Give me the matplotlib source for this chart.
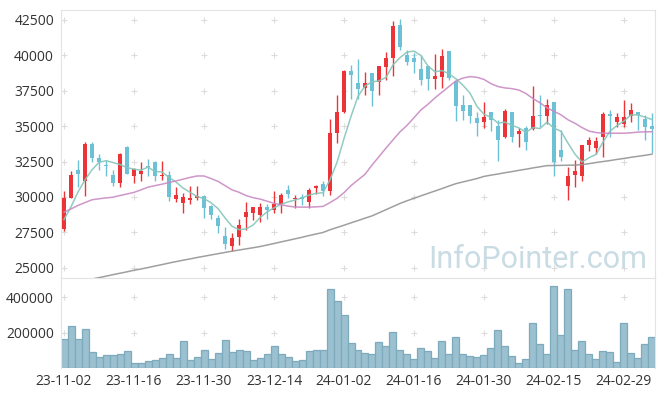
import numpy as np
import pandas as pd
import matplotlib.pyplot as plt

plt.rcParams['font.family'] = ['Open Sans', 'DejaVu Sans']

tick_labels = ["23-11-02", "23-11-16", "23-11-30", "23-12-14", "24-01-02",
               "24-01-16", "24-01-30", "24-02-15", "24-02-29"]

open_ = [27700, 29950, 31900, 31100, 33750, 32750, 32200, 31550, 31000, 33550,
         31450, 31650, 32200, 32500, 31450, 31550, 29850, 29600, 29800, 29950,
         30050, 29350, 28500, 27250, 26500, 27200, 28600, 28900, 28700, 29300,
         29100, 29500, 30500, 29850, 30000, 29650, 30600, 30900, 30400, 34500,
         36000, 38900, 38050, 37700, 38750, 38150, 39200, 39850, 42150, 40050,
         39850, 39050, 39250, 38350, 38500, 40300, 38200, 36500, 36500, 35600,
         35300, 36000, 35000, 34200, 36000, 34450, 34900, 34800, 35750, 35700,
         36700, 33300, 30750, 31550, 31450, 33650, 33450, 34200, 35850, 35300,
         35150, 35700, 36000, 35500, 35000]
high = [30400, 31800, 32600, 33900, 33900, 33000, 32600, 31900, 33100, 33600,
        32050, 32500, 32650, 32550, 32550, 31800, 30700, 30250, 30800, 30750,
        30100, 29400, 28750, 27900, 27450, 28450, 29650, 29300, 29600, 29500,
        30450, 30250, 30850, 30150, 30200, 30600, 30850, 31150, 35500, 37200,
        38950, 39350, 39750, 38850, 38750, 39250, 40250, 42400, 42550, 40400,
        40150, 40050, 39250, 40100, 40450, 40300, 38200, 37200, 36500, 36000,
        36700, 36000, 35450, 36200, 36000, 34900, 35000, 37850, 37200, 36900,
        36700, 34750, 32100, 32600, 33700, 34250, 34250, 36000, 36150, 35900,
        36850, 36650, 36000, 35800, 35950]
low = [27600, 29900, 30700, 30100, 32450, 31900, 31500, 30750, 30700, 31600,
       31000, 31100, 31450, 31100, 31200, 29700, 29650, 28850, 29500, 29800,
       28500, 28450, 27450, 26300, 26200, 26600, 27650, 28350, 28250, 28450,
       28850, 28850, 29900, 29250, 29400, 29250, 30200, 30050, 30150, 33800,
       35950, 36900, 36950, 37200, 36400, 37200, 38250, 38550, 40400, 39300,
       38750, 37900, 37550, 37650, 37700, 38250, 35350, 35450, 35200, 34300,
       34850, 34650, 32550, 34150, 33850, 33500, 33300, 34750, 34950, 35150,
       31500, 32550, 29800, 30700, 31100, 33250, 33000, 32850, 34250, 34950,
       34950, 35300, 34750, 34000, 33100]
close = [29900, 31550, 31650, 33750, 32750, 32500, 32150, 31000, 33050, 31650,
         31950, 31800, 32100, 31450, 31550, 30000, 30150, 30000, 29950, 30050,
         29250, 28700, 27950, 26650, 27100, 28050, 28950, 29300, 29300, 29100,
         29500, 30150, 30200, 29950, 29850, 30500, 30750, 30450, 34500, 36000,
         38900, 38600, 37600, 38050, 37500, 39250, 39800, 42050, 40600, 39500,
         39550, 38250, 38350, 38550, 39950, 38400, 36450, 36100, 35750, 35250,
         35650, 35400, 34050, 36050, 34200, 34650, 33900, 35700, 35700, 36500,
         32500, 32800, 31500, 31800, 33700, 34050, 33950, 35850, 35700, 35650,
         35650, 36150, 35800, 34950, 34800]
volume = [164000, 235000, 164000, 220000, 92000, 64000, 75000, 75000, 80000, 97000,
          30000, 30000, 41000, 47000, 58000, 80000, 58000, 153000, 47000, 64000,
          103000, 52000, 86000, 159000, 92000, 103000, 97000, 47000, 58000, 80000,
          125000, 80000, 64000, 41000, 47000, 97000, 103000, 103000, 445000, 378000,
          299000, 142000, 103000, 86000, 80000, 148000, 125000, 204000, 103000, 80000,
          52000, 114000, 97000, 58000, 153000, 80000, 176000, 80000, 69000, 64000,
          75000, 114000, 215000, 125000, 69000, 30000, 52000, 254000, 136000, 80000,
          462000, 187000, 445000, 103000, 153000, 80000, 52000, 97000, 92000, 36000,
          254000, 86000, 58000, 136000, 176000]

# first four 5-day averages need earlier closes, read them off the chart
ma5_head = [28400, 29300, 30350, 31200]
ma20 = [28920, 29150, 29400, 29600, 29800, 29870, 29930, 29980, 30100, 30210,
        30320, 30500, 30690, 30800, 30900, 31020, 31130, 31250, 31380, 31480,
        31480, 31300, 31100, 30800, 30500, 30330, 30100, 29950, 29850, 29700,
        29550, 29450, 29350, 29290, 29280, 29280, 29300, 29330, 29600, 29900,
        30300, 30800, 31200, 31600, 32250, 32850, 33450, 34030, 34600, 35050,
        35600, 36150, 36550, 37000, 37400, 37800, 38200, 38400, 38500, 38450,
        38300, 38000, 37800, 37700, 37650, 37550, 37300, 36950, 36650, 36300,
        36050, 35800, 35450, 35200, 34900, 34650, 34550, 34500, 34500, 34500,
        34500, 34530, 34580, 34600, 34600]
ma60 = [23780, 23880, 23990, 24090, 24200, 24300, 24400, 24510, 24610, 24710,
        24820, 24910, 25010, 25120, 25220, 25330, 25430, 25530, 25620, 25720,
        25810, 25900, 25990, 26080, 26170, 26250, 26330, 26410, 26495, 26600,
        26710, 26820, 26930, 27040, 27150, 27270, 27380, 27490, 27680, 27840,
        28000, 28170, 28330, 28500, 28660, 28880, 29100, 29320, 29540, 29730,
        29900, 30080, 30250, 30420, 30590, 30770, 30940, 31060, 31180, 31300,
        31450, 31540, 31620, 31710, 31790, 31880, 31960, 32050, 32130, 32210,
        32220, 32230, 32240, 32250, 32280, 32350, 32430, 32500, 32570, 32650,
        32720, 32800, 32870, 32940, 33020]

df = pd.DataFrame({"open": open_, "high": high, "low": low, "close": close, "volume": volume})
df["ma5"] = df["close"].rolling(5).mean()
df.loc[:3, "ma5"] = ma5_head
df["ma20"] = ma20
df["ma60"] = ma60

x = np.arange(len(df))
up = df["close"] >= df["open"]
colors = np.where(up, "#ec3438", "#6cc1d6")

fig = plt.figure(figsize=(6.65, 3.96), dpi=100)
ax = fig.add_axes([61 / 665, 1 - 278 / 396, 594 / 665, 268 / 396])
axv = fig.add_axes([61 / 665, 1 - 368 / 396, 594 / 665, 90 / 396], sharex=ax)

fig.text(647 / 665, 1 - 268 / 396, "InfoPointer.com", ha="right", va="baseline",
         fontsize=22, color="#c9dce4", zorder=0, family=["Roboto", "DejaVu Sans"])

ax.vlines(x, df["low"], df["high"], color=colors, linewidth=1, zorder=2)
body = np.maximum((df["close"] - df["open"]).abs(), 90)
ax.bar(x, body, bottom=np.minimum(df["open"], df["close"]), width=0.7,
       color=colors, zorder=3)
ax.plot(x, df["ma5"], color="#86c6ba", linewidth=1.1, alpha=0.9, zorder=4)
ax.plot(x, df["ma20"], color="#c98bc4", linewidth=1.1, alpha=0.9, zorder=4)
ax.plot(x, df["ma60"], color="#959595", linewidth=1.1, alpha=0.9, zorder=4)

axv.bar(x, df["volume"], width=1.0, color="#9bc0d0", edgecolor="#7eaabe", linewidth=0.9)

xt = np.arange(0, 81, 10)
yt = np.arange(25000, 42501, 2500)
gx, gy = np.meshgrid(xt, yt)
ax.scatter(gx.ravel(), gy.ravel(), marker="+", s=14, color="#dcdcdc", linewidths=0.8, zorder=0)
vt = [200000, 400000]
gx, gy = np.meshgrid(xt, vt)
axv.scatter(gx.ravel(), gy.ravel(), marker="+", s=14, color="#dcdcdc", linewidths=0.8, zorder=0)

ax.set_xlim(-0.43, 84.43)
ax.set_ylim(24273, 43206)
axv.set_ylim(0, 509000)

ax.set_yticks(yt)
axv.set_yticks(vt)
axv.set_xticks(xt)
axv.set_xticklabels(tick_labels)
ax.tick_params(axis="x", labelbottom=False)

for a in (ax, axv):
    a.tick_params(length=0, labelsize=10, labelcolor="#333333")
    a.tick_params(axis="y", pad=5)
    for s in a.spines.values():
        s.set_color("#e3e3e3")
axv.spines["bottom"].set_visible(False)
axv.tick_params(axis="x", pad=4)

fig.savefig("out.png", dpi=100)
